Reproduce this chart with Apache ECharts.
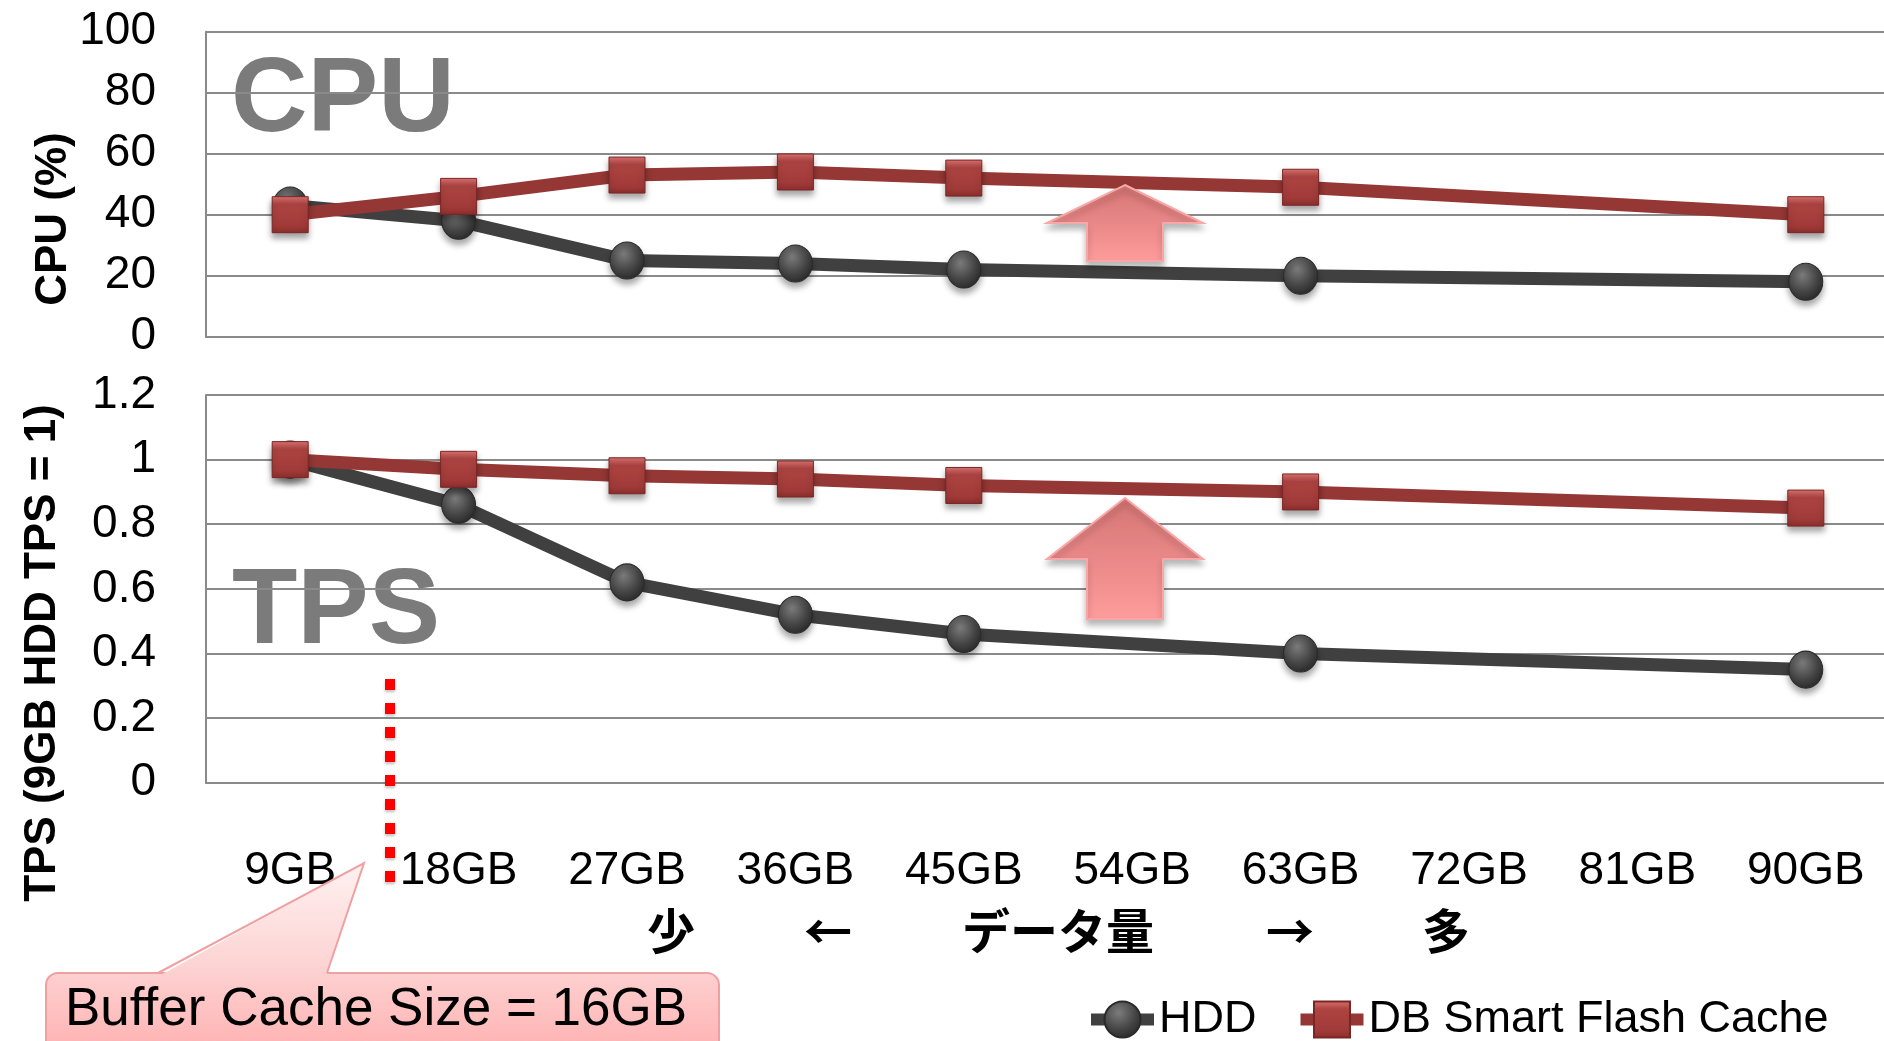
<!DOCTYPE html>
<html>
<head>
<meta charset="utf-8">
<script src="https://cdn.jsdelivr.net/npm/echarts@6/dist/echarts.min.js"></script>
<style>
  html, body { margin: 0; padding: 0; background: #ffffff; }
  #chart { width: 1884px; height: 1041px; }
</style>
</head>
<body>
<div id="chart"></div>
<script>
// Data volume categories (x axis)
const categories = ['9GB', '18GB', '27GB', '36GB', '45GB', '54GB', '63GB', '72GB', '81GB', '90GB'];

// CPU utilisation (%) per data volume
const cpuHdd   = [43, 38, 25, 24, 22, null, 20, null, null, 18];
const cpuFlash = [40, 46, 53, 54, 52, null, 49, null, null, 40];

// TPS relative to 9GB on HDD
const tpsHdd   = [1.0, 0.86, 0.62, 0.52, 0.46, null, 0.40, null, null, 0.35];
const tpsFlash = [1.0, 0.97, 0.95, 0.94, 0.92, null, 0.90, null, null, 0.85];

// Value axis ranges
const cpuRange = { min: 0, max: 100, interval: 20 };
const tpsRange = { min: 0, max: 1.2, interval: 0.2 };

const seriesNames = ['HDD', 'DB Smart Flash Cache'];

const LATIN = "'Liberation Sans', Arial, sans-serif";
const CJK = "'Noto Sans CJK JP', sans-serif";
const GRID_GRAY = '#8a8a8a';

const chart = echarts.init(document.getElementById('chart'), null, { renderer: 'canvas' });

const hddMarker = new echarts.graphic.RadialGradient(0.4, 0.32, 0.75, [
  { offset: 0, color: '#7c7c7c' },
  { offset: 0.6, color: '#444444' },
  { offset: 1, color: '#262626' }
]);
const flashMarker = new echarts.graphic.LinearGradient(0, 0, 0, 1, [
  { offset: 0, color: '#dc7472' },
  { offset: 0.22, color: '#ad4442' },
  { offset: 0.8, color: '#a03a38' },
  { offset: 1, color: '#8a2e2c' }
]);

function hddSeries(data, idx) {
  return {
    name: seriesNames[0], type: 'line', data: data,
    xAxisIndex: idx, yAxisIndex: idx, connectNulls: true,
    symbol: 'circle', symbolSize: [34, 37],
    lineStyle: { color: '#404040', width: 13 },
    itemStyle: {
      color: hddMarker, borderColor: '#2a2a2a', borderWidth: 1,
      shadowColor: 'rgba(0,0,0,0.35)', shadowBlur: 6, shadowOffsetY: 5
    },
    emphasis: { disabled: true }, z: 3
  };
}
function flashSeries(data, idx) {
  return {
    name: seriesNames[1], type: 'line', data: data,
    xAxisIndex: idx, yAxisIndex: idx, connectNulls: true,
    symbol: 'rect', symbolSize: 36,
    lineStyle: { color: '#953735', width: 13 },
    itemStyle: {
      color: flashMarker, borderColor: '#7a2624', borderWidth: 1,
      shadowColor: 'rgba(0,0,0,0.35)', shadowBlur: 6, shadowOffsetY: 5
    },
    emphasis: { disabled: true }, z: 4
  };
}

function valueAxis(idx, range) {
  return {
    type: 'value', gridIndex: idx,
    min: range.min, max: range.max, interval: range.interval,
    axisLine: { show: true, lineStyle: { color: GRID_GRAY, width: 2 } },
    axisTick: { show: false },
    axisLabel: { color: '#000', fontSize: 46, fontFamily: LATIN, margin: 50, padding: [14, 0, 0, 0] },
    splitLine: { show: true, lineStyle: { color: GRID_GRAY, width: 2 } }
  };
}
function categoryAxis(idx, showLabels) {
  return {
    type: 'category', gridIndex: idx, data: categories, boundaryGap: true,
    axisLine: { show: true, lineStyle: { color: GRID_GRAY, width: 2 } },
    axisTick: { show: false },
    axisLabel: { show: showLabels, interval: 0, color: '#000', fontSize: 46, fontFamily: LATIN, margin: 66 },
    splitLine: { show: false }
  };
}

function upArrow(cx, tip, shoulder, bottom) {
  const hw = 78, sw = 38;
  return {
    type: 'polygon', z: 20,
    shape: { points: [[cx, tip], [cx + hw, shoulder], [cx + sw, shoulder], [cx + sw, bottom],
                      [cx - sw, bottom], [cx - sw, shoulder], [cx - hw, shoulder]] },
    style: {
      fill: new echarts.graphic.LinearGradient(0, 0, 0, 1, [
        { offset: 0, color: '#d37473' }, { offset: 1, color: '#ff9c9c' }
      ]),
      stroke: '#f6a8a8', lineWidth: 2,
      shadowColor: 'rgba(0,0,0,0.28)', shadowBlur: 6, shadowOffsetY: 5
    }
  };
}

const calloutFill = new echarts.graphic.LinearGradient(0, 863, 0, 1045, [
  { offset: 0, color: '#fff1f1' },
  { offset: 0.55, color: '#fdd4d4' },
  { offset: 1, color: '#ffb4b4' }
], true);

const option = {
  animation: false,
  backgroundColor: '#ffffff',
  grid: [
    { left: 206, top: 31.7, width: 1684, height: 305, containLabel: false, outerBoundsMode: 'none' },
    { left: 206, top: 395, width: 1684, height: 387.7, containLabel: false, outerBoundsMode: 'none' }
  ],
  xAxis: [categoryAxis(0, false), categoryAxis(1, true)],
  yAxis: [valueAxis(0, cpuRange), valueAxis(1, tpsRange)],
  legend: {
    left: 1080, top: 992,
    itemWidth: 63, itemHeight: 45, itemGap: 38,
    data: seriesNames,
    lineStyle: { width: 12 },
    textStyle: { color: '#000', fontSize: 45, fontFamily: LATIN },
    selectedMode: false
  },
  series: [
    hddSeries(cpuHdd, 0), flashSeries(cpuFlash, 0),
    hddSeries(tpsHdd, 1), flashSeries(tpsFlash, 1)
  ],
  graphic: { elements: [
    // panel titles behind the grid lines
    { type: 'text', z: -10, style: { text: 'CPU', x: 231, y: 102, font: 'bold 106px ' + LATIN, fill: '#7b7b7b', verticalAlign: 'middle' } },
    { type: 'text', z: -10, style: { text: 'TPS', x: 232, y: 613, font: 'bold 107px ' + LATIN, fill: '#7b7b7b', verticalAlign: 'middle' } },
    // axis titles
    { type: 'text', x: 54, y: 219, rotation: Math.PI / 2,
      style: { text: 'CPU (%)', x: 0, y: 0, font: 'bold 44px ' + LATIN, fill: '#000', align: 'center', verticalAlign: 'middle' } },
    { type: 'text', x: 43, y: 653, rotation: Math.PI / 2,
      style: { text: 'TPS (9GB HDD TPS = 1)', x: 0, y: 0, font: 'bold 44px ' + LATIN, fill: '#000', align: 'center', verticalAlign: 'middle' } },
    // data volume direction caption
    { type: 'text', style: { text: '少', x: 671, y: 931, font: 'bold 48px ' + CJK, fill: '#000', align: 'center', verticalAlign: 'middle' } },
    { type: 'text', style: { text: '←', x: 828, y: 931, font: 'bold 48px ' + CJK, fill: '#000', align: 'center', verticalAlign: 'middle' } },
    { type: 'text', style: { text: 'データ量', x: 1058, y: 931, font: 'bold 48px ' + CJK, fill: '#000', align: 'center', verticalAlign: 'middle' } },
    { type: 'text', style: { text: '→', x: 1290, y: 931, font: 'bold 48px ' + CJK, fill: '#000', align: 'center', verticalAlign: 'middle' } },
    { type: 'text', style: { text: '多', x: 1446, y: 931, font: 'bold 48px ' + CJK, fill: '#000', align: 'center', verticalAlign: 'middle' } },
    // improvement arrows
    upArrow(1125, 185, 223, 261),
    upArrow(1125, 498, 559, 619),
    // buffer cache size marker
    { type: 'line', z: 20, shape: { x1: 390, y1: 679, x2: 390, y2: 884 },
      style: { stroke: '#ff0000', lineWidth: 10, lineDash: [11, 13], shadowColor: 'rgba(0,0,0,0.25)', shadowBlur: 3, shadowOffsetY: 2 } },
    // callout
    { type: 'rect', z: 20, shape: { x: 46, y: 973, width: 673, height: 100, r: 12 },
      style: { fill: calloutFill, stroke: '#f0a0a0', lineWidth: 2 } },
    { type: 'polygon', z: 21, shape: { points: [[159, 976], [364, 863], [326, 976]] },
      style: { fill: calloutFill } },
    { type: 'polyline', z: 21, shape: { points: [[158, 973], [364, 863], [327, 973]] },
      style: { stroke: '#f0a0a0', lineWidth: 2, fill: null } },
    { type: 'text', z: 22, style: { text: 'Buffer Cache Size = 16GB', x: 65, y: 1010, font: '53px ' + LATIN, fill: '#000', verticalAlign: 'middle' } }
  ] }
};

chart.setOption(option);
</script>
</body>
</html>
